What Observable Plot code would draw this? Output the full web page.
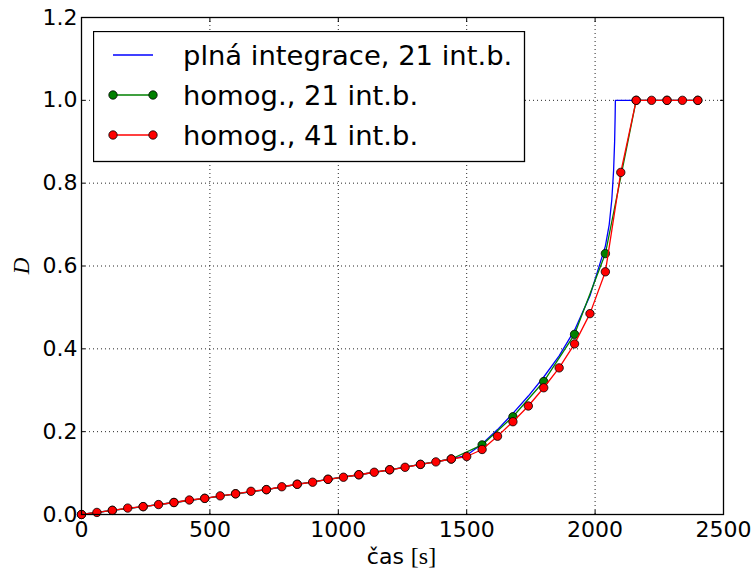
<!DOCTYPE html>
<html>
<head>
<meta charset="utf-8">
<script src="https://cdn.jsdelivr.net/npm/d3@7"></script>
<script src="https://cdn.jsdelivr.net/npm/@observablehq/plot@0.6"></script>
<style>
  html, body { margin: 0; padding: 0; background: #fff; }
  #wrap { position: relative; width: 755px; height: 578px; overflow: hidden; }
  #wrap svg.plot { position: absolute; left: 0; top: 0; }
  .lbl { position: absolute; color: #000; white-space: nowrap; line-height: 1; }
  #xlabel { left: 0; width: 803px; top: 544px; text-align: center; font-family: "DejaVu Sans", sans-serif; font-size: 22px; }
  #xlabel .unit { font-family: "Liberation Serif", "DejaVu Serif", serif; font-size: 24px; }
  #ylabel { left: 21px; top: 266px; transform: translate(-50%, -50%) rotate(-90deg); font-family: "Liberation Serif", "DejaVu Serif", serif; font-style: italic; font-size: 23px; }
  #legend { position: absolute; left: 93px; top: 31px; }
</style>
</head>
<body>
<div id="wrap"></div>
<script>
// ---- data ----
const seriesNames = ["plná integrace, 21 int.b.", "homog., 21 int.b.", "homog., 41 int.b."];
const seriesColors = ["#0000ff", "#008000", "#ff0000"];
const xTicks = [0, 500, 1000, 1500, 2000, 2500];
const yTicks = [0.0, 0.2, 0.4, 0.6, 0.8, 1.0, 1.2];
const xLabelText = "čas";
const xUnitText = "[s]";
const yLabelText = "D";

// full integration (blue)
const tBlue = [0, 120, 240, 360, 480, 600, 720, 840, 960, 1080, 1200, 1320, 1440, 1500, 1560, 1620, 1680, 1740, 1800, 1860, 1920, 1980, 2040, 2055, 2065, 2072, 2076, 2078, 2079, 2400];
const dBlue = [0, 0.010, 0.019, 0.029, 0.039, 0.050, 0.060, 0.073, 0.085, 0.096, 0.108, 0.121, 0.134, 0.143, 0.170, 0.205, 0.244, 0.286, 0.332, 0.383, 0.445, 0.528, 0.648, 0.70, 0.76, 0.83, 0.90, 0.96, 1.0, 1.0];

// homog., 21 int.b. (green)
const tGreen = [0, 120, 240, 360, 480, 600, 720, 840, 960, 1080, 1200, 1320, 1440, 1560, 1680, 1800, 1920, 2040, 2160, 2280, 2400];
const dGreen = [0, 0.010, 0.019, 0.029, 0.039, 0.050, 0.060, 0.073, 0.085, 0.096, 0.108, 0.121, 0.134, 0.168, 0.236, 0.321, 0.435, 0.630, 1.0, 1.0, 1.0];

// homog., 41 int.b. (red)
const tRed = [0, 60, 120, 180, 240, 300, 360, 420, 480, 540, 600, 660, 720, 780, 840, 900, 960, 1020, 1080, 1140, 1200, 1260, 1320, 1380, 1440, 1500, 1560, 1620, 1680, 1740, 1800, 1860, 1920, 1980, 2040, 2100, 2160, 2220, 2280, 2340, 2400];
const dRed = [0, 0.005, 0.010, 0.0155, 0.019, 0.024, 0.029, 0.035, 0.039, 0.045, 0.050, 0.056, 0.060, 0.067, 0.073, 0.078, 0.085, 0.090, 0.096, 0.102, 0.108, 0.114, 0.121, 0.127, 0.134, 0.140, 0.157, 0.189, 0.224, 0.262, 0.306, 0.354, 0.412, 0.485, 0.586, 0.826, 1.0, 1.0, 1.0, 1.0, 1.0];

// ---- build tables ----
const zip = (ts, ds) => ts.map((t, i) => ({t, d: ds[i]}));
const blue = zip(tBlue, dBlue);
const green = zip(tGreen, dGreen);
const red = zip(tRed, dRed);

const gridStyle = {stroke: "#000", strokeOpacity: 0.85, strokeWidth: 1, strokeDasharray: "1,3"};

const chart = Plot.plot({
  width: 755,
  height: 578,
  marginTop: 17,
  marginRight: 32,
  marginBottom: 64,
  marginLeft: 81,
  style: {fontFamily: "'DejaVu Sans', sans-serif", fontSize: "22px", background: "#fff", color: "#000", overflow: "visible"},
  x: {domain: [0, 2500]},
  y: {domain: [0, 1.2]},
  marks: [
    Plot.gridX(xTicks, gridStyle),
    Plot.gridY(yTicks, gridStyle),
    Plot.line(blue, {x: "t", y: "d", stroke: seriesColors[0], strokeWidth: 1.3}),
    Plot.line(green, {x: "t", y: "d", stroke: seriesColors[1], strokeWidth: 1.3}),
    Plot.dot(green, {x: "t", y: "d", r: 4.2, fill: seriesColors[1], stroke: "#000", strokeWidth: 0.8}),
    Plot.line(red, {x: "t", y: "d", stroke: seriesColors[2], strokeWidth: 1.3}),
    Plot.dot(red, {x: "t", y: "d", r: 4.2, fill: seriesColors[2], stroke: "#000", strokeWidth: 0.8}),
    Plot.frame({stroke: "#000", strokeWidth: 1.3}),
    // tick labels
    Plot.axisX(xTicks, {anchor: "bottom", tickSize: 0, tickPadding: 7, tickFormat: d => String(d), label: null, fontSize: 22}),
    Plot.axisY(yTicks, {anchor: "left", tickSize: 0, tickPadding: 4, tickFormat: d => d.toFixed(1), label: null, fontSize: 22}),
    // inward ticks on all four sides
    Plot.axisX(xTicks, {anchor: "bottom", tickSize: 4, dy: -4, tickFormat: () => "", label: null}),
    Plot.axisX(xTicks, {anchor: "top", tickSize: 4, dy: 4, tickFormat: () => "", label: null}),
    Plot.axisY(yTicks, {anchor: "left", tickSize: 4, dx: 4, tickFormat: () => "", label: null}),
    Plot.axisY(yTicks, {anchor: "right", tickSize: 4, dx: -4, tickFormat: () => "", label: null})
  ]
});
chart.classList.add("plot");

const wrap = document.getElementById("wrap");
wrap.appendChild(chart);

// axis titles
const xl = document.createElement("div");
xl.className = "lbl"; xl.id = "xlabel";
xl.innerHTML = `${xLabelText} <span class="unit">${xUnitText}</span>`;
wrap.appendChild(xl);
const yl = document.createElement("div");
yl.className = "lbl"; yl.id = "ylabel";
yl.textContent = yLabelText;
wrap.appendChild(yl);

// legend
const ns = "http://www.w3.org/2000/svg";
const lg = document.createElementNS(ns, "svg");
lg.setAttribute("id", "legend");
lg.setAttribute("width", 433);
lg.setAttribute("height", 132);
const box = document.createElementNS(ns, "rect");
box.setAttribute("x", 0.5); box.setAttribute("y", 0.5);
box.setAttribute("width", 431); box.setAttribute("height", 130);
box.setAttribute("fill", "#fff"); box.setAttribute("stroke", "#000"); box.setAttribute("stroke-width", 1.3);
lg.appendChild(box);
seriesNames.forEach((name, i) => {
  const cy = 24 + i * 40;
  const ln = document.createElementNS(ns, "line");
  ln.setAttribute("x1", 20); ln.setAttribute("x2", 60);
  ln.setAttribute("y1", cy); ln.setAttribute("y2", cy);
  ln.setAttribute("stroke", seriesColors[i]); ln.setAttribute("stroke-width", 1.3);
  lg.appendChild(ln);
  if (i > 0) {
    [20, 60].forEach(cx => {
      const c = document.createElementNS(ns, "circle");
      c.setAttribute("cx", cx); c.setAttribute("cy", cy); c.setAttribute("r", 4.2);
      c.setAttribute("fill", seriesColors[i]); c.setAttribute("stroke", "#000"); c.setAttribute("stroke-width", 0.8);
      lg.appendChild(c);
    });
  }
  const tx = document.createElementNS(ns, "text");
  tx.setAttribute("x", 90); tx.setAttribute("y", cy);
  tx.setAttribute("dy", "0.36em");
  tx.setAttribute("font-family", "'DejaVu Sans', sans-serif");
  tx.setAttribute("font-size", 27.4);
  tx.setAttribute("fill", "#000");
  tx.textContent = name;
  lg.appendChild(tx);
});
wrap.appendChild(lg);
</script>
</body>
</html>
